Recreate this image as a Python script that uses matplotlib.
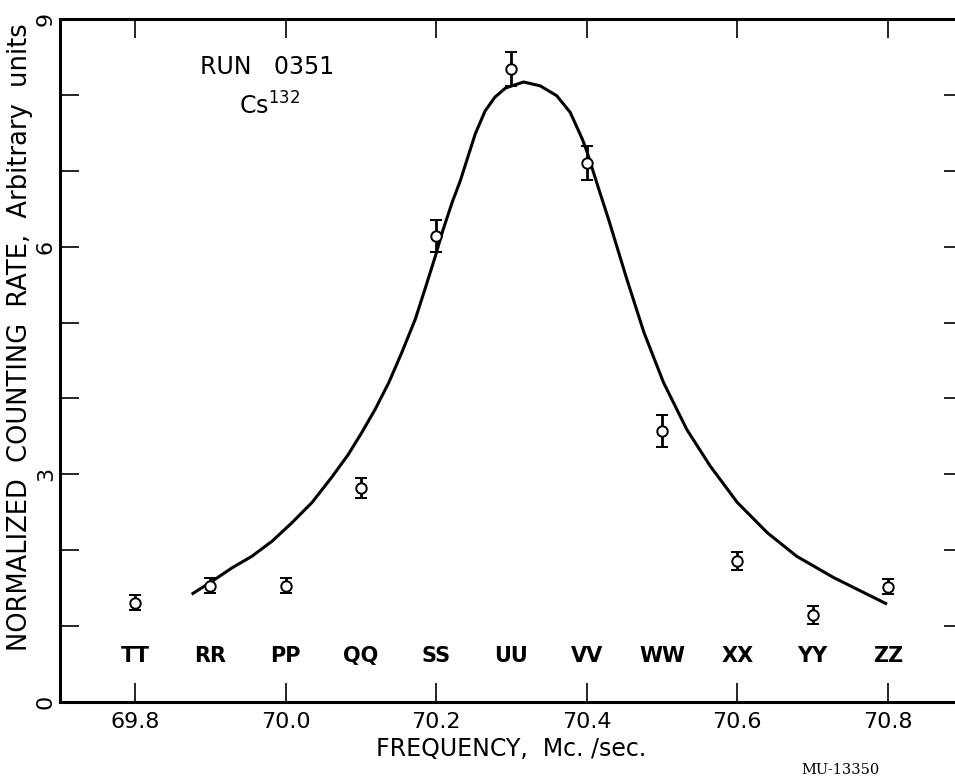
import matplotlib
matplotlib.use("Agg")
import matplotlib.pyplot as plt
import numpy as np

# measured points (frequency in Mc/sec)
freq = [69.8, 69.9, 70.0, 70.1, 70.2, 70.3, 70.4, 70.5, 70.6, 70.7, 70.8]
rate = [1.31, 1.53, 1.53, 2.82, 6.14, 8.34, 7.10, 3.57, 1.86, 1.15, 1.52]
rate_err = [0.10, 0.10, 0.10, 0.13, 0.21, 0.22, 0.22, 0.21, 0.12, 0.12, 0.10]
run_labels = ["TT", "RR", "PP", "QQ", "SS", "UU", "VV", "WW", "XX", "YY", "ZZ"]

# fitted curve
curve_f = [69.875, 69.902, 69.929, 69.955, 69.982, 70.008, 70.035, 70.061,
           70.083, 70.101, 70.119, 70.137, 70.154, 70.172, 70.185, 70.199,
           70.208, 70.221, 70.232, 70.241, 70.252, 70.265, 70.278, 70.292,
           70.316, 70.338, 70.360, 70.378, 70.394, 70.400, 70.414, 70.429,
           70.445, 70.453, 70.476, 70.502, 70.533, 70.564, 70.600, 70.640,
           70.679, 70.728, 70.799]
curve_v = [1.42, 1.59, 1.77, 1.92, 2.12, 2.36, 2.63, 2.96,
           3.26, 3.55, 3.86, 4.21, 4.60, 5.04, 5.44, 5.88,
           6.19, 6.58, 6.87, 7.15, 7.49, 7.79, 7.97, 8.09,
           8.17, 8.12, 7.99, 7.77, 7.42, 7.26, 6.82, 6.36,
           5.84, 5.58, 4.87, 4.21, 3.59, 3.11, 2.63, 2.23,
           1.92, 1.64, 1.29]

xticks = [69.8, 70.0, 70.2, 70.4, 70.6, 70.8]
xtick_labels = ["69.8", "70.0", "70.2", "70.4", "70.6", "70.8"]
yticks = [0, 1, 2, 3, 4, 5, 6, 7, 8, 9]
ytick_labels = ["0", "", "", "3", "", "", "6", "", "", "9"]

plt.rcParams['font.family'] = ['DejaVu Sans']

fig = plt.figure(figsize=(9.55, 7.82), dpi=100)
ax = fig.add_axes([0.0628, 0.1023, 0.9456, 0.8734])

ax.plot(curve_f, curve_v, color='black', lw=2.2, zorder=2,
        solid_joinstyle='round', solid_capstyle='butt')
ax.errorbar(freq, rate, yerr=rate_err, fmt='o', color='black', mfc='white',
            mec='black', ms=7.5, mew=1.4, elinewidth=2.0, capsize=4.3,
            capthick=2.0, zorder=3)

for f, lab in zip(freq, run_labels):
    ax.text(f, 0.6, lab, ha='center', va='center', fontsize=15,
            family='Liberation Sans Narrow', fontweight='bold')

ax.set_xlim(69.7, 70.9)
ax.set_ylim(0, 9)
ax.set_xticks(xticks)
ax.set_xticklabels(xtick_labels, fontsize=16)
ax.set_yticks(yticks)
ax.set_yticklabels(ytick_labels, fontsize=16, rotation=90, va='center')

ax.tick_params(axis='both', direction='in', top=True, right=True,
               length=14, width=1.2, color='black')
ax.tick_params(axis='x', pad=7)
ax.tick_params(axis='y', pad=3)
for s in ax.spines.values():
    s.set_linewidth(2.2)

ax.set_xlabel("FREQUENCY,  Mc. /sec.", fontsize=17, labelpad=4)
fig.text(0.021, 0.569, "NORMALIZED  COUNTING  RATE,  Arbitrary  units",
         rotation=90, fontsize=18.5, ha='center', va='center')

ax.text(0.155, 0.93, "RUN   0351", transform=ax.transAxes, fontsize=17,
        ha='left', va='center')
ax.text(0.198, 0.873, r"Cs$^{\mathregular{132}}$", transform=ax.transAxes,
        fontsize=17, ha='left', va='center')

fig.text(0.88, 0.015, "MU-13350", fontsize=10.5, family='DejaVu Serif',
         ha='center', va='center')

fig.savefig("out.png", dpi=100)
